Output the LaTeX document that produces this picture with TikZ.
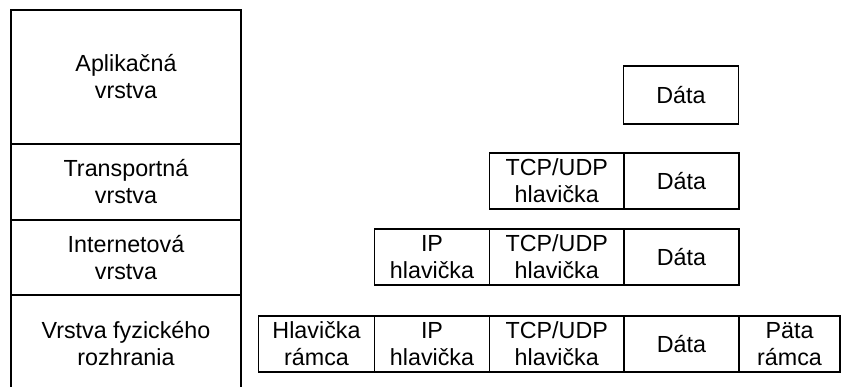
\documentclass[tikz,border=0pt]{standalone}
\usepackage{fontspec}
\setmainfont{Liberation Sans}
\usetikzlibrary{positioning}
\begin{document}
\begin{tikzpicture}
    [x=1pt,y=-1pt,
     layer/.style={rectangle,draw,line width=1.9pt,outer sep=0pt,inner sep=0pt,minimum width=230pt,align=center,font=\fontsize{23.3}{27}\selectfont},
     cell/.style={rectangle,draw,line width=1.9pt,outer sep=0pt,inner sep=0pt,minimum height=56pt,minimum width=115pt,align=center,font=\fontsize{23.3}{27}\selectfont},
     wide/.style={cell,minimum width=134.5pt}]
    \useasboundingbox (0,0) rectangle (842,387);
    \clip (0,0) rectangle (842,387);

    \node[layer,minimum height=134pt,anchor=north west] (app) at (11,10) {Aplikačná\\vrstva};
    \node[layer,minimum height=76pt] (trans) [below=0pt of app] {Transportná\\vrstva};
    \node[layer,minimum height=75pt] (inet) [below=0pt of trans] {Internetová\\vrstva};
    \node[layer,minimum height=97pt] (phys) [below=0pt of inet] {Vrstva fyzického\\rozhrania};

    \node[cell,minimum height=58pt] (data1) at (681,95) {Dáta};

    \node[cell] (data2) at (681.5,181) {Dáta};
    \node[wide] (tcp2) [left=0pt of data2] {TCP/UDP\\hlavička};

    \node[cell] (data3) at (681.5,257) {Dáta};
    \node[wide] (tcp3) [left=0pt of data3] {TCP/UDP\\hlavička};
    \node[cell] (ip3) [left=0pt of tcp3] {IP\\hlavička};

    \node[cell] (data4) at (681.5,344) {Dáta};
    \node[wide] (tcp4) [left=0pt of data4] {TCP/UDP\\hlavička};
    \node[cell] (ip4) [left=0pt of tcp4] {IP\\hlavička};
    \node[cell,minimum width=116pt] (fhead4) [left=0pt of ip4] {Hlavička\\rámca};
    \node[cell,minimum width=101pt] (ftail4) [right=0pt of data4] {Päta\\rámca};
\end{tikzpicture}
\end{document}
